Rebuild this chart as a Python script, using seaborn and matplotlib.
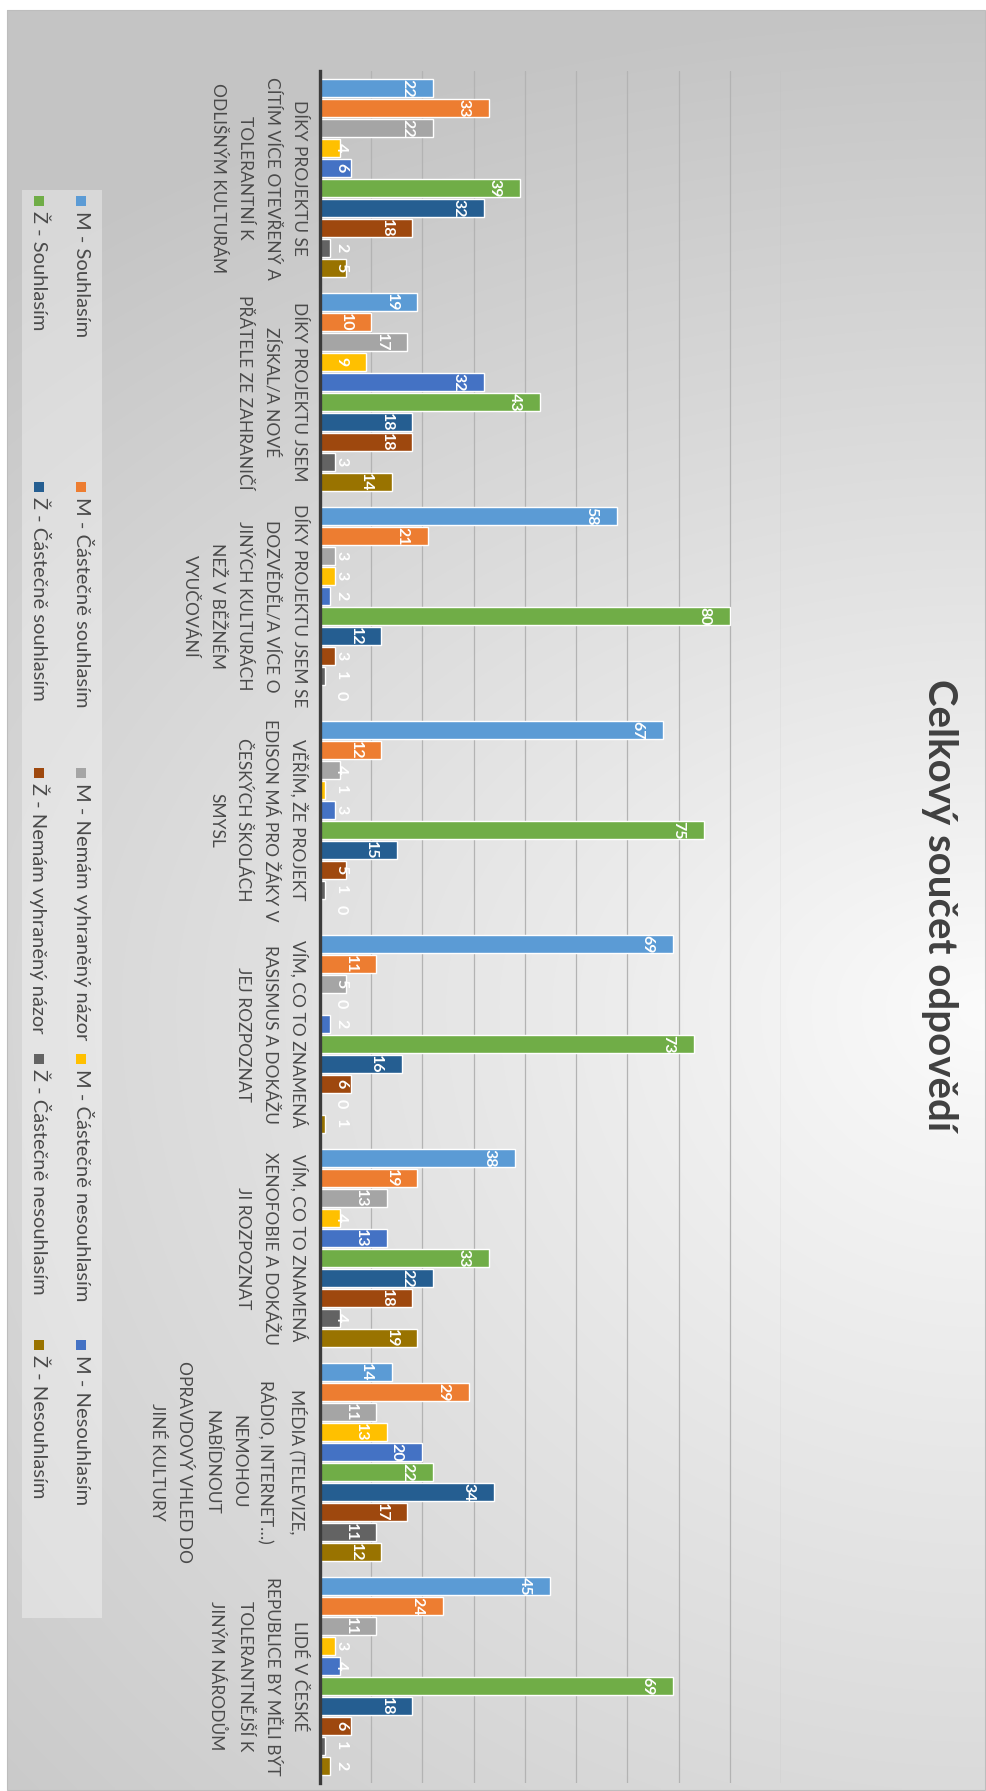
import numpy as np
import pandas as pd
import matplotlib
matplotlib.use("Agg")
import matplotlib.pyplot as plt
from matplotlib import font_manager
import seaborn as sns
from matplotlib.patches import Rectangle

# ---- data -------------------------------------------------------------
categories = [
    "DÍKY PROJEKTU SE\nCÍTÍM VÍCE OTEVŘENÝ A\nTOLERANTNÍ K\nODLIŠNÝM KULTURÁM",
    "DÍKY PROJEKTU JSEM\nZÍSKAL/A NOVÉ\nPŘÁTELE ZE ZAHRANIČÍ",
    "DÍKY PROJEKTU JSEM SE\nDOZVĚDĚL/A VÍCE O\nJINÝCH KULTURÁCH\nNEŽ V BĚŽNÉM\nVYUČOVÁNÍ",
    "VĚŘÍM, ŽE PROJEKT\nEDISON MÁ PRO ŽÁKY V\nČESKÝCH ŠKOLÁCH\nSMYSL",
    "VÍM, CO TO ZNAMENÁ\nRASISMUS A DOKÁŽU\nJEJ ROZPOZNAT",
    "VÍM, CO TO ZNAMENÁ\nXENOFOBIE A DOKÁŽU\nJI ROZPOZNAT",
    "MÉDIA (TELEVIZE,\nRÁDIO, INTERNET…)\nNEMOHOU\nNABÍDNOUT\nOPRAVDOVÝ VHLED DO\nJINÉ KULTURY",
    "LIDÉ V ČESKÉ\nREPUBLICE BY MĚLI BÝT\nTOLERANTNĚJŠÍ K\nJINÝM NÁRODŮM",
]

series = [
    "M - Souhlasím",
    "M - Částečně souhlasím",
    "M - Nemám vyhraněný názor",
    "M - Částečně nesouhlasím",
    "M - Nesouhlasím",
    "Ž - Souhlasím",
    "Ž - Částečně souhlasím",
    "Ž - Nemám vyhraněný názor",
    "Ž - Částečně nesouhlasím",
    "Ž - Nesouhlasím",
]

m_souhlasim            = [22, 19, 58, 67, 69, 38, 14, 45]
m_castecne_souhlasim   = [33, 10, 21, 12, 11, 19, 29, 24]
m_nemam_nazor          = [22, 17, 3, 4, 5, 13, 11, 11]
m_castecne_nesouhlasim = [4, 9, 3, 1, 0, 4, 13, 3]
m_nesouhlasim          = [6, 32, 2, 3, 2, 13, 20, 4]
z_souhlasim            = [39, 43, 80, 75, 73, 33, 22, 69]
z_castecne_souhlasim   = [32, 18, 12, 15, 16, 22, 34, 18]
z_nemam_nazor          = [18, 18, 3, 5, 6, 18, 17, 6]
z_castecne_nesouhlasim = [2, 3, 1, 1, 0, 4, 11, 1]
z_nesouhlasim          = [5, 14, 0, 0, 1, 19, 12, 2]

values = [
    m_souhlasim, m_castecne_souhlasim, m_nemam_nazor, m_castecne_nesouhlasim,
    m_nesouhlasim, z_souhlasim, z_castecne_souhlasim, z_nemam_nazor,
    z_castecne_nesouhlasim, z_nesouhlasim,
]

colors = ["#5B9BD5", "#ED7D31", "#A5A5A5", "#FFC000", "#4472C4",
          "#70AD47", "#255E91", "#9E480E", "#636363", "#997300"]

title = "Celkový součet odpovědí"

rows = []
for name, vals in zip(series, values):
    for cat, v in zip(categories, vals):
        rows.append({"otázka": cat, "odpověď": name, "počet": v})
df = pd.DataFrame(rows)

# ---- fonts ------------------------------------------------------------
sns.set_style("white")
plt.rcParams["font.family"] = ["Lato", "DejaVu Sans"]
installed = {f.name for f in font_manager.fontManager.ttflist}
if "Liberation Sans Narrow" in installed:
    cat_family, cat_size = ["Liberation Sans Narrow", "DejaVu Sans"], 14
else:
    cat_family, cat_size = ["Lato", "DejaVu Sans"], 12.5

# ---- figure -----------------------------------------------------------
W, H = 987, 1791
fig = plt.figure(figsize=(W / 100, H / 100), dpi=100)
fig.patch.set_facecolor("white")


def fx(px):
    return px / W


def fy(py):
    return 1 - py / H


# card with a soft grey gradient, lightest around the title side
card = (7, 10, 985, 1790)
bg = fig.add_axes([fx(card[0]), fy(card[3]), (card[2] - card[0]) / W,
                   (card[3] - card[1]) / H], zorder=0)
u = np.linspace(0, 1, 300)[None, :]
v = np.linspace(0, 1, 500)[:, None]
v0 = 0.56
b = np.where(v < v0, 0.56, 0.75)
r = np.sqrt(((1 - u) / 1.5) ** 2 + ((v - v0) / b) ** 2)
shade = 0.985 - 0.215 * np.clip(r, 0, 1) ** 0.95
bg.imshow(np.dstack([shade] * 3), aspect="auto", extent=(0, 1, 0, 1),
          origin="upper", interpolation="bilinear")
bg.set_axis_off()
fig.add_artist(Rectangle((fx(card[0]), fy(card[3])), (card[2] - card[0]) / W,
                         (card[3] - card[1]) / H, transform=fig.transFigure,
                         fill=False, edgecolor="#bdbdbd", lw=0.8, zorder=1))

# plot area: value axis runs left -> right, questions run top -> bottom
ax = fig.add_axes([fx(320), fy(1783), (781 - 320) / W, (1783 - 71) / H],
                  zorder=2)
ax.set_facecolor("none")

sns.barplot(data=df, y="otázka", x="počet", hue="odpověď",
            order=categories, hue_order=series, palette=colors,
            orient="h", width=0.934, gap=0.075, errorbar=None,
            saturation=1, legend=False, ax=ax)

ax.set_xlim(0, 90)
ax.set_xticks(np.arange(0, 91, 10))
ax.set_xticklabels([])
ax.grid(axis="x", color="#b3b3b3", lw=0.9)
ax.set_axisbelow(True)
ax.set_xlabel("")
ax.set_ylabel("")
for side in ("top", "right", "bottom"):
    ax.spines[side].set_visible(False)
ax.spines["left"].set_color("#3b3b3b")
ax.spines["left"].set_linewidth(2.4)
ax.tick_params(axis="x", length=0)
ax.tick_params(axis="y", length=0, pad=9)
ax.set_yticks(range(len(categories)))
ax.set_yticklabels(categories, rotation=-90, ha="right", va="center",
                   multialignment="center", fontsize=cat_size,
                   family=cat_family, color="#4a4a4a", linespacing=1.85)

# value labels near the bar tips
for patch in ax.patches:
    w = patch.get_width()
    yc = patch.get_y() + patch.get_height() / 2
    ax.text(max(w - 5.0, 4.1), yc, f"{w:.0f}", rotation=-90,
            ha="center", va="center", color="white", fontsize=11.5,
            fontweight="bold", zorder=5)

# title
fig.text(fx(940), fy(905), title, rotation=-90, ha="center", va="center",
         fontsize=29, fontweight="bold", color="#404040")

# legend: two columns (M right, Ž left), entries reading top -> bottom
fig.add_artist(Rectangle((fx(22), fy(1618)), 80 / W, (1618 - 190) / H,
                         transform=fig.transFigure, facecolor="white",
                         alpha=0.35, edgecolor="none", zorder=3))
for i, (name, col) in enumerate(zip(series, colors)):
    group, row = divmod(i, 5)
    xc = 81.5 if group == 0 else 39
    ym = 201 + 286 * row
    fig.add_artist(Rectangle((fx(xc - 5), fy(ym + 5)), 10 / W, 10 / H,
                             transform=fig.transFigure, facecolor=col,
                             edgecolor="none", zorder=4))
    fig.text(fx(xc), fy(ym + 10), name, rotation=-90, ha="center", va="top",
             fontsize=14.5, color="#4a4a4a", zorder=4)

fig.savefig("out.png", dpi=100, facecolor="white")
